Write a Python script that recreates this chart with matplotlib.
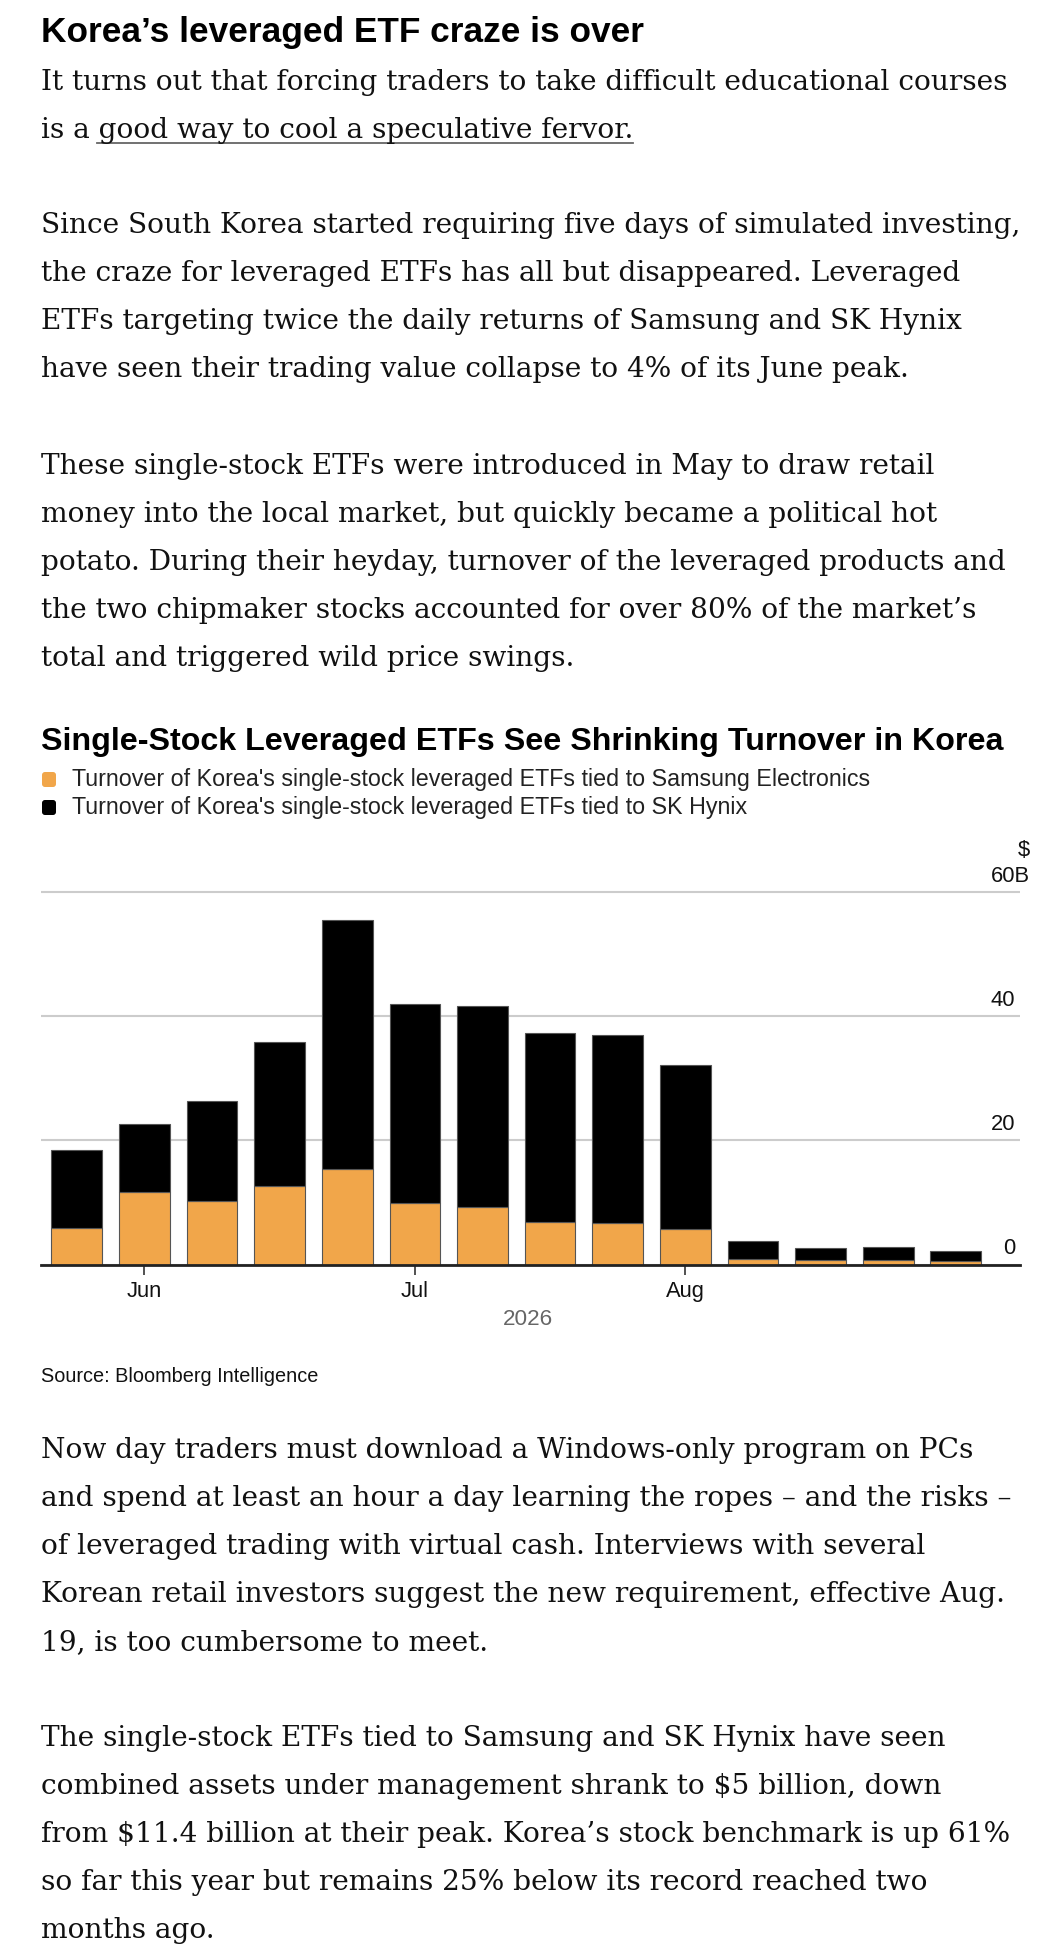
import matplotlib.pyplot as plt
from matplotlib.transforms import Affine2D, ScaledTranslation, blended_transform_factory
from matplotlib.patches import FancyBboxPatch

# weekly turnover, $ billions
weeks = ["May 25", "Jun 1", "Jun 8", "Jun 15", "Jun 22", "Jun 29", "Jul 6",
         "Jul 13", "Jul 20", "Jul 27", "Aug 3", "Aug 10", "Aug 17", "Aug 24"]
samsung = [5.8, 11.6, 10.2, 12.7, 15.4, 9.9, 9.3, 6.8, 6.7, 5.7, 0.9, 0.7, 0.7, 0.6]
hynix = [12.7, 11.0, 16.2, 23.1, 40.1, 32.0, 32.4, 30.5, 30.3, 26.4, 2.85, 2.0, 2.1, 1.55]
month_ticks = [1, 5, 9]
month_labels = ["Jun", "Jul", "Aug"]
y_ticks = [0, 20, 40]

W, H = 1064, 1958
ORANGE = "#F1A64A"
SERIF = "DejaVu Serif"
SANS = "Liberation Sans"

fig = plt.figure(figsize=(W / 100, H / 100), dpi=100)
px = Affine2D().scale(1 / W, -1 / H).translate(0, 1) + fig.transFigure
r = fig.canvas.get_renderer()


def fs(p):
    return p * 0.72


def txt(x, y, s, size, **kw):
    kw.setdefault("family", SERIF)
    kw.setdefault("color", "#111111")
    return fig.text(x, y, s, transform=px, fontsize=fs(size), va="baseline", **kw)


# body size: fit the first dek line to its width in the original (~971 px)
probe = txt(41, 90, "It turns out that forcing traders to take difficult educational courses", 30)
body = 30 * 971 / probe.get_window_extent(r).width
probe.remove()

# headline + dek
txt(41, 42, "Korea’s leveraged ETF craze is over", 35.2, family=SANS, weight="bold", color="black")
txt(41, 90, "It turns out that forcing traders to take difficult educational courses", body)
line2 = txt(41, 138, "is a good way to cool a speculative fervor.", body)

paras = [
    (233, ["Since South Korea started requiring five days of simulated investing,",
           "the craze for leveraged ETFs has all but disappeared. Leveraged",
           "ETFs targeting twice the daily returns of Samsung and SK Hynix",
           "have seen their trading value collapse to 4% of its June peak."]),
    (474, ["These single-stock ETFs were introduced in May to draw retail",
           "money into the local market, but quickly became a political hot",
           "potato. During their heyday, turnover of the leveraged products and",
           "the two chipmaker stocks accounted for over 80% of the market’s",
           "total and triggered wild price swings."]),
    (1458, ["Now day traders must download a Windows-only program on PCs",
            "and spend at least an hour a day learning the ropes – and the risks –",
            "of leveraged trading with virtual cash. Interviews with several",
            "Korean retail investors suggest the new requirement, effective Aug.",
            "19, is too cumbersome to meet."]),
    (1746, ["The single-stock ETFs tied to Samsung and SK Hynix have seen",
            "combined assets under management shrank to \\$5 billion, down",
            "from \\$11.4 billion at their peak. Korea’s stock benchmark is up 61%",
            "so far this year but remains 25% below its record reached two",
            "months ago."]),
]
for y0, lines in paras:
    for i, s in enumerate(lines):
        txt(41, y0 + i * 48, s, body)

# chart title + legend
txt(41, 750, "Single-Stock Leveraged ETFs See Shrinking Turnover in Korea", 32.3,
    family=SANS, weight="bold", color="black")
for yc, col, lab in [(780, ORANGE, "Turnover of Korea's single-stock leveraged ETFs tied to Samsung Electronics"),
                     (808, "black", "Turnover of Korea's single-stock leveraged ETFs tied to SK Hynix")]:
    fig.patches.append(FancyBboxPatch((42, yc - 7), 14, 15, boxstyle="round,pad=0,rounding_size=3",
                                      transform=px, facecolor=col, edgecolor="none"))
    fig.text(72, yc, lab, transform=px, fontsize=fs(23.3), family=SANS, va="center", color="#222222")

# bars
ax = fig.add_axes([41 / W, 1 - 1265.5 / H, 979 / W, (372.5 + 6.2) / H])
x = list(range(len(weeks)))
ax.bar(x, samsung, width=0.75, color=ORANGE, edgecolor="#555555", linewidth=0.8, zorder=3)
ax.bar(x, hynix, width=0.75, bottom=samsung, color="black", edgecolor="#555555", linewidth=0.8, zorder=3)
ax.set_xlim(-0.53, 13.95)
ax.set_ylim(0, 61)
ax.set_yticks(y_ticks + [60])
ax.yaxis.grid(True, color="#cccccc", linewidth=1.5, zorder=0)
ax.tick_params(axis="y", length=0, labelleft=False)
for sp in ["left", "right", "top"]:
    ax.spines[sp].set_visible(False)
ax.spines["bottom"].set_color("#222222")
ax.spines["bottom"].set_linewidth(2)
ax.spines["bottom"].set_zorder(4)
ax.set_xticks(month_ticks, month_labels)
ax.tick_params(axis="x", length=7.5, width=1.2, color="#333333", pad=4,
               labelsize=fs(22), labelcolor="#111111")
for lab in ax.get_xticklabels():
    lab.set_family(SANS)

# y labels sit just above their gridlines at the right end
up = ScaledTranslation(0, 0.11, fig.dpi_scale_trans)
ytr = ax.get_yaxis_transform() + ScaledTranslation(-0.05, 0, fig.dpi_scale_trans) + up
ylabs = [ax.text(1.0, v, str(v), transform=ytr, ha="right", va="baseline", fontsize=fs(22),
                 family=SANS, color="#111111") for v in y_ticks]
# "60B" starts where the two-digit labels start, "$" sits above its right end
fig_y = blended_transform_factory(fig.transFigure, ax.transData)
x0 = ylabs[-1].get_window_extent(r).x0
top = ax.text(x0 / W, 60, "60B", transform=fig_y + up,
              ha="left", va="baseline", fontsize=fs(22), family=SANS, color="#111111")
x1 = top.get_window_extent(r).x1
ax.text(x1 / W, 60, "\\$", transform=fig_y + ScaledTranslation(0, 0.37, fig.dpi_scale_trans),
        ha="right", va="baseline", fontsize=fs(22), family=SANS, color="#111111")

fig.text(528, 1325, "2026", transform=px, fontsize=fs(22.5), family=SANS, color="#666666",
         ha="center", va="baseline")
fig.text(41, 1382, "Source: Bloomberg Intelligence", transform=px, fontsize=fs(19.9),
         family=SANS, color="#111111", va="baseline")

# underline the linked phrase
full = line2.get_window_extent(r)
tail = fig.text(0, 0, "good way to cool a speculative fervor.", fontsize=fs(body), family=SERIF)
tw = tail.get_window_extent(r).width
tail.remove()
fig.add_artist(plt.Line2D([full.x1 - tw - 2, full.x1], [144, 144], transform=px, color="#666666", linewidth=1.3))

fig.savefig("out.png", dpi=100, facecolor="white")
